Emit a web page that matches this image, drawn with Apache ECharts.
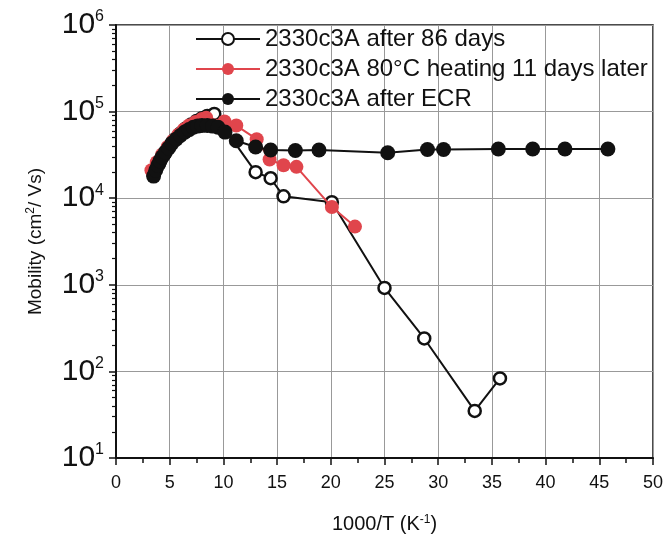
<!DOCTYPE html>
<html><head><meta charset="utf-8">
<script src="https://cdn.jsdelivr.net/npm/echarts@6/dist/echarts.min.js"></script>
<style>html,body{margin:0;padding:0;background:#fff}#c{width:667px;height:540px}</style>
</head><body><div id="c"></div>
<script>
const seriesNames = ['2330c3A after 86 days', '2330c3A 80°C heating 11 days later', '2330c3A after ECR'];
const after86 = [[3.5,1.9e4],[4.0,2.5e4],[4.5,3.2e4],[5.0,4.0e4],[5.5,4.8e4],[6.0,5.6e4],[6.5,6.4e4],[7.0,7.1e4],[7.5,7.8e4],[8.0,8.4e4],[8.5,8.9e4],[9.15,9.4e4],[13.0,2.0e4],[14.4,1.7e4],[15.6,1.05e4],[20.1,9.0e3],[25.0,9.2e2],[28.7,2.4e2],[33.4,35],[35.75,83]];
const heating = [[3.3,2.1e4],[3.8,2.6e4],[4.3,3.2e4],[4.8,3.9e4],[5.3,4.6e4],[5.8,5.4e4],[6.3,6.2e4],[6.8,6.9e4],[7.4,7.6e4],[8.0,8.2e4],[8.4,8.5e4],[10.1,7.7e4],[11.2,6.9e4],[13.1,4.8e4],[14.3,2.8e4],[15.6,2.4e4],[16.8,2.3e4],[20.1,7.9e3],[22.25,4.7e3]];
const ecr = [[3.5,1.8e4],[3.7,2.1e4],[3.9,2.4e4],[4.1,2.7e4],[4.3,3.0e4],[4.6,3.4e4],[4.9,3.8e4],[5.2,4.3e4],[5.6,4.8e4],[6.0,5.3e4],[6.4,5.8e4],[6.8,6.2e4],[7.2,6.6e4],[7.6,6.8e4],[8.0,6.9e4],[8.5,6.9e4],[9.0,6.8e4],[9.5,6.6e4],[10.15,5.8e4],[11.2,4.6e4],[13.0,3.9e4],[14.4,3.6e4],[16.7,3.55e4],[18.9,3.6e4],[25.3,3.35e4],[29.0,3.65e4],[30.5,3.65e4],[35.6,3.7e4],[38.8,3.7e4],[41.8,3.7e4],[45.8,3.7e4]];
const xTicks = [0,5,10,15,20,25,30,35,40,45,50];

const font = 'Liberation Sans, Arial, sans-serif';
const chart = echarts.init(document.getElementById('c'), null, {renderer:'canvas'});
chart.setOption({
  animation:false,
  backgroundColor:'#fff',
  grid:{left:116,right:14,top:25,bottom:82,show:true,borderColor:'#111',borderWidth:1.5},
  legend:{
    left:190, top:22, orient:'vertical', itemGap:6, itemWidth:64, itemHeight:15,
    textStyle:{fontFamily:font,fontSize:24,color:'#111'},
    data:seriesNames
  },
  xAxis:{
    type:'value', min:xTicks[0], max:xTicks[xTicks.length-1], interval:5,
    name:'1000/T (K{sup|-1})', nameLocation:'middle', nameGap:56,
    nameTextStyle:{fontFamily:font,fontSize:20,color:'#111',rich:{sup:{fontSize:12,verticalAlign:'top',padding:[0,0,9,0]}}},
    axisLine:{lineStyle:{color:'#111',width:2}},
    axisTick:{inside:false,length:7,lineStyle:{color:'#111',width:1.5}},
    minorTick:{show:true,splitNumber:2,length:5,lineStyle:{color:'#111',width:1.5}},
    axisLabel:{fontFamily:font,fontSize:18,color:'#111',margin:16},
    splitLine:{show:true,lineStyle:{color:'#999',width:1}}
  },
  yAxis:{
    type:'log', logBase:10, min:10, max:1e6,
    name:'Mobility (cm{sup|2}/ Vs)', nameLocation:'middle', nameGap:70,
    nameTextStyle:{fontFamily:font,fontSize:19,color:'#111',rich:{sup:{fontSize:12,verticalAlign:'top',padding:[0,0,9,0]}}},
    axisLine:{lineStyle:{color:'#111',width:2}},
    axisTick:{length:7,lineStyle:{color:'#111',width:1.5}},
    minorTick:{show:true,splitNumber:9,length:4,lineStyle:{color:'#111',width:1.2}},
    axisLabel:{margin:12,formatter:function(v){const e=Math.round(Math.log10(v));return '{b|10}{s|'+e+'}';},
      rich:{b:{fontFamily:font,fontSize:30,color:'#111'},s:{fontFamily:font,fontSize:16,color:'#111',verticalAlign:'top',padding:[0,0,16,0]}}},
    splitLine:{show:true,lineStyle:{color:'#999',width:1}}
  },
  series:[
    {name:seriesNames[0],type:'line',data:after86,symbol:'circle',symbolSize:12,z:2,
     lineStyle:{color:'#111',width:2},itemStyle:{color:'#fff',borderColor:'#111',borderWidth:2.5}},
    {name:seriesNames[1],type:'line',data:heating,symbol:'circle',symbolSize:14,z:3,
     lineStyle:{color:'#e0454c',width:2},itemStyle:{color:'#e0454c',borderColor:'#e0454c',borderWidth:0}},
    {name:seriesNames[2],type:'line',data:ecr,symbol:'circle',symbolSize:15,z:4,
     lineStyle:{color:'#111',width:2},itemStyle:{color:'#111',borderColor:'#111',borderWidth:0}}
  ]
});
</script></body></html>
